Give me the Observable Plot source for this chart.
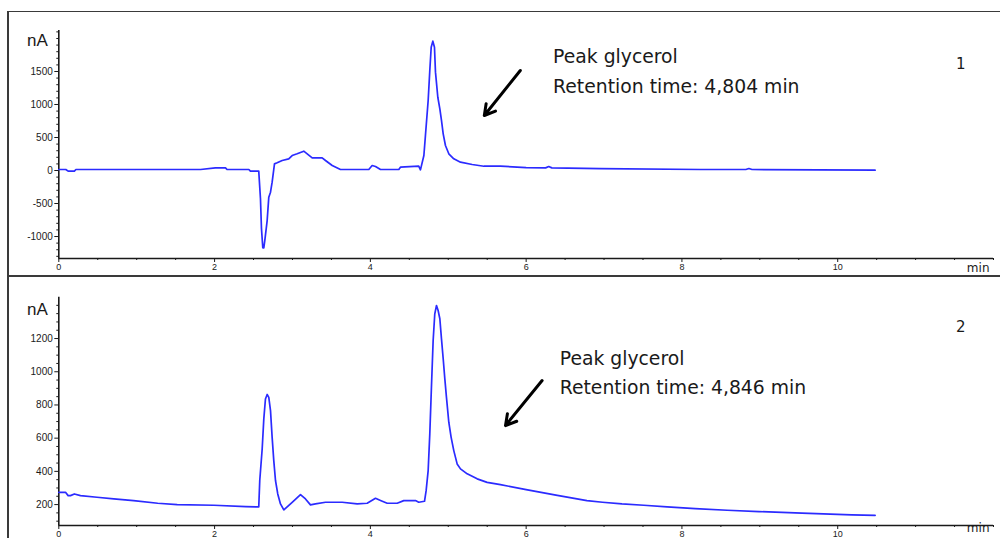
<!DOCTYPE html>
<html><head><meta charset="utf-8">
<script src="https://cdn.jsdelivr.net/npm/d3@7"></script>
<script src="https://cdn.jsdelivr.net/npm/@observablehq/plot@0.6"></script>
<style>
html,body{margin:0;padding:0;background:#fff;}
#wrap{position:relative;width:1000px;height:538px;overflow:hidden;background:#fff;}
#wrap > svg, #wrap > figure{position:absolute;left:0;margin:0;}
.frame{position:absolute;background:#3a3a3a;}
</style></head><body>
<div id="wrap"></div>
<script>
// ---- Data: chromatogram 1 (time in min, signal in nA)
const time1 = [0,0.09,0.12,0.2,0.22,1.0,1.82,2.01,2.14,2.16,2.44,2.46,2.567,2.589,2.602,2.619,2.632,2.645,2.675,2.696,2.718,2.739,2.769,2.803,2.868,2.952,2.996,3.06,3.145,3.189,3.253,3.381,3.424,3.51,3.616,3.98,4.023,4.066,4.13,4.365,4.386,4.621,4.643,4.687,4.707,4.742,4.763,4.781,4.802,4.823,4.836,4.866,4.892,4.913,4.935,4.964,5.007,5.071,5.157,5.307,5.457,5.67,6.0,6.25,6.29,6.33,6.95,8.24,8.82,8.86,8.9,10.48];
const signal1 = [15,15,-10,-10,15,15,15,40,40,15,15,-10,-10,-424,-880,-1171,-1171,-1060,-758,-404,-328,-177,101,117,152,177,227,253,293,253,192,192,152,76,15,15,76,60,15,15,50,65,10,227,530,1060,1515,1868,1960,1868,1490,1110,935,758,556,379,253,177,126,91,65,65,45,40,60,40,30,15,15,30,15,5];

// ---- Data: chromatogram 2
const time2 = [0,0.086,0.12,0.15,0.2,0.279,0.49,0.706,0.96,1.27,1.52,1.99,2.4,2.567,2.58,2.611,2.632,2.653,2.675,2.696,2.718,2.739,2.76,2.782,2.811,2.846,2.889,2.996,3.103,3.167,3.231,3.295,3.424,3.638,3.831,3.959,4.066,4.13,4.216,4.344,4.429,4.579,4.621,4.695,4.716,4.742,4.763,4.784,4.806,4.827,4.849,4.87,4.892,4.913,4.935,4.956,4.977,5.007,5.037,5.071,5.114,5.157,5.243,5.371,5.499,5.67,6.0,6.4,6.78,6.98,7.23,7.51,7.81,8.17,8.58,8.99,9.54,10.18,10.48];
const signal2 = [274,274,254,254,264,254,244,234,224,208,200,196,188,186,345,535,716,836,863,846,766,605,465,345,264,204,168,214,260,234,198,204,214,214,204,208,238,225,208,208,224,224,214,220,284,405,626,907,1188,1349,1399,1369,1319,1198,1078,957,846,696,605,525,445,415,385,355,334,320,290,255,224,214,204,196,186,176,166,158,148,138,135];

// ---- Tick labels
const xTicks = [0, 2, 4, 6, 8, 10];
const yTicks1 = [-1000, -500, 0, 500, 1000, 1500];
const yTicks2 = [200, 400, 600, 800, 1000, 1200];

// ---- Texts
const panelNames = ["1", "2"];
const peakLabel = "Peak glycerol";
const retentionLabels = ["Retention time: 4,804 min", "Retention time: 4,846 min"];
const yUnit = "nA";
const xUnit = "min";

const LINE = "#2b2bff";
const INK = "#1a1a1a";
const tickFont = "Liberation Sans, Arial, sans-serif";
const annFont = "DejaVu Sans, Verdana, sans-serif";

function panel(cfg) {
  const data = cfg.time.map((t, i) => ({t, v: cfg.signal[i]}));
  const xMinor = d3.range(0, 12.01, 0.5).filter(d => !xTicks.includes(d));
  const yMinor = d3.range(Math.ceil(cfg.yDomain[0] / cfg.minorStep) * cfg.minorStep, cfg.yDomain[1], cfg.minorStep)
    .filter(d => !cfg.yTicks.includes(d));
  return Plot.plot({
    width: 1000,
    height: cfg.height,
    marginLeft: 58.3,
    marginRight: 7,
    marginTop: cfg.marginTop,
    marginBottom: cfg.marginBottom,
    x: {domain: [0, 12], label: null},
    y: {domain: cfg.yDomain, label: null},
    style: {background: "transparent", fontFamily: tickFont, color: INK, overflow: "visible"},
    marks: [
      Plot.axisY(yMinor, {tickSize: 2, tickFormat: () => "", stroke: INK}),
      Plot.axisY(cfg.yTicks, {tickSize: 4, tickPadding: 2, fontSize: 10, stroke: INK, fill: INK, tickFormat: d => String(d)}),
      Plot.axisX(xMinor, {tickSize: 2, tickFormat: () => "", stroke: INK}),
      Plot.axisX(xTicks, {tickSize: 4, tickPadding: 1, fontSize: 9, stroke: INK, fill: INK, tickFormat: d => String(d)}),
      Plot.ruleX([0], {stroke: INK, strokeWidth: 1.6}),
      Plot.ruleY([cfg.yDomain[0]], {stroke: INK, strokeWidth: 1.6}),
      Plot.line(data, {x: "t", y: "v", stroke: LINE, strokeWidth: 1.7, strokeLinejoin: "round"}),
      Plot.text([yUnit], {frameAnchor: "top-left", dx: -11, dy: cfg.unitDy, textAnchor: "end", fontSize: 17, fill: INK, fontFamily: tickFont}),
      Plot.text([xUnit], {frameAnchor: "bottom-right", dx: -4, dy: cfg.minDy, textAnchor: "end", fontSize: 12, fill: INK, fontFamily: annFont}),
      Plot.text([cfg.name], {x: 11.58, y: cfg.nameY, fontSize: 15, fill: INK, fontFamily: annFont}),
      Plot.text([peakLabel], {x: cfg.textX, y: cfg.textY[0], textAnchor: "start", fontSize: 18.8, fill: INK, fontFamily: annFont}),
      Plot.text([cfg.retention], {x: cfg.textX, y: cfg.textY[1], textAnchor: "start", fontSize: 18.8, fill: INK, fontFamily: annFont}),
      Plot.arrow([cfg.arrow], {x1: "x1", y1: "y1", x2: "x2", y2: "y2", stroke: "#000", strokeWidth: 3, headLength: 6})
    ]
  });
}

const wrap = document.getElementById("wrap");

const p1 = panel({
  time: time1, signal: signal1, yDomain: [-1333, 2121], yTicks: yTicks1, minorStep: 100,
  height: 276, marginTop: 30, marginBottom: 18, unitDy: 3, minDy: 13,
  name: panelNames[0], nameY: 1609, retention: retentionLabels[0],
  textX: 6.346, textY: [1723, 1262],
  arrow: {x1: 5.925, y1: 1515, x2: 5.463, y2: 833}
});
p1.style.top = "0px";
wrap.appendChild(p1);

const p2 = panel({
  time: time2, signal: signal2, yDomain: [74, 1449], yTicks: yTicks2, minorStep: 50,
  height: 262, marginTop: 20.7, marginBottom: 13, unitDy: 6, minDy: 6,
  name: panelNames[1], nameY: 1266, retention: retentionLabels[1],
  textX: 6.431, textY: [1075, 905],
  arrow: {x1: 6.205, y1: 947, x2: 5.735, y2: 676}
});
p2.style.top = "276px";
wrap.appendChild(p2);

// frame lines of the original report
[[7, 10.5, 2, 600], [7, 10.5, 1100, 1.6], [7, 275, 1100, 2]].forEach(([l, t, w, h]) => {
  const d = document.createElement("div");
  d.className = "frame";
  d.style.left = l + "px"; d.style.top = t + "px"; d.style.width = w + "px"; d.style.height = h + "px";
  wrap.appendChild(d);
});
</script>
</body></html>
